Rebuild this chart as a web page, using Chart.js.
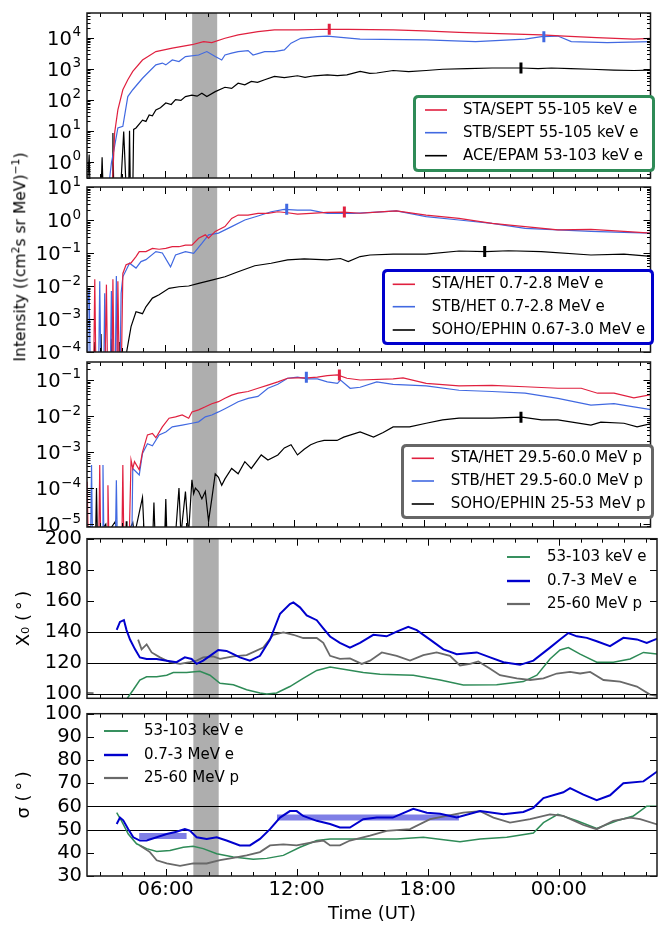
<!DOCTYPE html>
<html><head><meta charset="utf-8">
<script src="https://cdn.jsdelivr.net/npm/chart.js@4.4.0/dist/chart.umd.min.js"></script>
<style>
html,body{margin:0;padding:0;background:#fff;}
#wrap{position:relative;width:659px;height:925px;overflow:hidden;font-family:'DejaVu Sans',sans-serif;background:#fff;}
canvas{position:absolute;left:0;}
#ylab{position:absolute;left:21px;top:257px;transform:translate(-50%,-50%) rotate(-90deg);white-space:nowrap;font-size:15.5px;color:#000;line-height:1;}
#ylab sup{font-size:70%;vertical-align:super;line-height:0;}
</style></head>
<body><div id="wrap">
<canvas id="c1"></canvas><canvas id="c2"></canvas><canvas id="c3"></canvas><canvas id="c4"></canvas><canvas id="c5"></canvas>
<div id="ylab">Intensity ((cm<sup>2</sup>s sr MeV)<sup>&minus;1</sup>)</div>
</div>
<script>
// ---------- shared axis data ----------
const timeTicks = [6, 12, 18, 24];
const timeLabels = ['06:00', '12:00', '18:00', '00:00'];
const bandStart = 7.27, bandEnd = 8.43;

// ---------- panel 1: 53-105 keV electrons ----------
const p1StaT = [3.58,3.68,3.83,4.06,4.29,4.52,4.97,5.59,6.35,7.26,7.8,8.18,8.79,9.4,10.32,11.08,12.15,13.53,14.5,16.58,18.0,19.63,21.5,23.45,24.52,26.0,27.73,28.6];
const p1StaV = [0.2,8.5,47,209,437,813,1900,3550,4570,5900,7400,6900,9500,12300,15500,17800,17800,18600,18500,17800,16500,14800,13500,12300,11200,10000,8900,9500];
const p1StbT = [3.45,3.53,3.68,3.83,4.06,4.29,4.52,4.97,5.59,5.89,6.05,6.35,6.66,6.96,7.57,7.95,8.34,8.64,8.79,9.1,9.4,9.86,10.09,10.63,11.08,11.54,11.85,12.3,13.07,13.53,15.05,18.11,20.4,22.69,23.45,24.21,24.83,26.5,28.6];
const p1StbV = [0.3,0.9,3.2,12.3,13.8,126,209,490,1320,1510,1320,1900,1700,2450,2750,3550,2450,1900,2750,3160,3550,3800,2750,3550,3550,4000,6600,9500,10700,11200,8900,8500,7400,8900,10700,11200,7400,6900,7400];
const p1AceT = [2.41,2.5,2.55,3.05,3.1,3.15,3.57,3.6,3.64,3.95,4.1,4.22,4.33,4.37,4.41,4.52,4.56,4.67,4.97,5.13,5.28,5.43,5.59,5.8,6.05,6.3,6.5,6.75,6.96,7.26,7.5,7.72,7.95,8.34,8.79,9.1,9.4,9.71,10.01,10.3,10.63,11.08,11.54,12.15,12.5,12.92,13.53,14.0,14.44,15.05,15.5,15.82,16.58,17.3,18.11,18.87,20.0,21.16,22.54,23.3,23.91,24.8,25.74,26.8,27.73,28.6];
const p1AceV = [0.1,1.7,0.1,0.1,1.4,0.1,0.1,8.5,0.1,0.1,9.5,0.1,0.1,10,0.1,0.1,11,12.3,22,20,32,30,47,55,78,70,100,95,126,141,130,162,126,182,251,230,339,300,389,360,437,562,513,589,520,589,631,600,631,813,700,724,871,800,871,955,1000,1050,1050,1000,1050,1000,955,900,871,891];
const p1PeakT = [13.62, 23.56, 22.5];
const p1PeakV = [18600, 10700, 1050];

// ---------- panel 2: ~1 MeV electrons ----------
const p2StaT = [2.41,2.7,2.76,2.82,3.22,3.3,3.36,3.55,3.6,3.66,3.78,3.83,3.9,3.98,4.06,4.21,4.44,4.67,4.82,5.13,5.43,5.74,6.05,6.35,6.66,6.96,7.26,7.57,7.88,8.03,8.34,8.79,9.1,9.4,9.86,10.32,10.78,11.24,11.69,12.15,12.76,13.53,14.29,15.05,15.82,16.73,18.11,19.63,21.16,22.69,24.21,25.74,27.27,28.6];
const p2StaV = [1e-5,1e-5,0.016,1e-5,1e-5,0.011,1e-5,1e-5,0.016,1e-5,1e-5,0.014,1e-5,1e-5,0.024,0.044,0.05,0.078,0.11,0.11,0.138,0.13,0.138,0.155,0.155,0.174,0.174,0.28,0.355,0.28,0.45,0.63,1.12,1.41,1.41,1.58,1.58,1.78,1.66,1.51,1.58,1.7,1.74,1.6,1.74,1.9,1.41,1.12,0.79,0.63,0.5,0.52,0.45,0.4];
const p2StbT = [2.41,2.44,2.5,2.56,2.93,2.99,3.05,3.17,3.22,3.28,3.47,3.53,3.59,3.7,3.76,3.82,3.92,3.98,4.06,4.37,4.67,4.9,5.13,5.59,5.89,6.27,6.5,6.96,7.34,7.72,8.03,8.49,9.1,9.71,10.32,10.93,11.54,12.15,12.76,13.53,14.75,15.82,16.73,18.11,19.63,21.16,22.69,24.21,25.74,27.27,28.6];
const p2StbV = [1e-5,0.003,0.008,1e-5,1e-5,0.014,1e-5,1e-5,0.006,1e-5,1e-5,0.007,1e-5,1e-5,0.02,1e-5,1e-5,0.006,0.019,0.049,0.035,0.055,0.063,0.11,0.1,0.038,0.087,0.11,0.098,0.195,0.355,0.4,0.63,1.0,1.32,1.78,2.09,2.0,2.0,1.58,1.58,1.74,1.9,1.26,1.0,0.79,0.56,0.5,0.45,0.42,0.4];
const p2EphT = [2.41,2.7,2.76,2.82,3.0,3.05,3.1,3.5,3.53,3.58,3.85,3.91,3.96,4.21,4.44,4.67,4.97,5.13,5.43,5.74,6.2,6.66,7.11,7.57,8.18,8.79,9.4,10.17,10.93,11.69,12.46,13.53,14.14,14.5,15.05,15.51,16.58,18.11,19.63,20.86,21.92,23.45,25.74,27.27,28.6];
const p2EphV = [1e-5,1e-5,0.0002,1e-5,1e-5,0.00035,1e-5,1e-5,0.00025,1e-5,1e-5,0.0002,1e-5,0.00008,0.00059,0.00166,0.00145,0.00234,0.0043,0.0054,0.0085,0.0095,0.01,0.012,0.015,0.019,0.027,0.041,0.049,0.062,0.066,0.062,0.068,0.055,0.078,0.087,0.093,0.093,0.115,0.11,0.117,0.11,0.087,0.093,0.078];
const p2PeakT = [14.32, 11.65, 20.82];
const p2PeakV = [1.74, 2.1, 0.112];

// ---------- panel 3: 25-60 MeV protons ----------
const p3StaT = [2.41,2.45,2.95,2.99,3.03,3.33,3.37,3.41,4.02,4.06,4.1,4.36,4.44,4.52,4.6,4.82,4.97,5.2,5.43,5.59,5.89,6.2,6.5,6.81,7.11,7.26,7.57,7.88,8.18,8.49,8.79,9.1,9.4,9.86,10.32,10.78,11.24,11.69,12.15,12.61,13.07,13.53,14.0,14.44,15.05,16.58,17.04,18.11,19.63,21.16,22.69,24.21,25.29,26.05,26.81,27.73,28.6];
const p3StaV = [0.00015,5e-6,5e-6,0.00044,5e-6,5e-6,0.00012,5e-6,5e-6,0.00044,5e-6,5e-6,0.0006,0.00035,0.00054,0.00032,0.001,0.003,0.0033,0.0025,0.005,0.0087,0.0095,0.0107,0.0087,0.013,0.0148,0.018,0.022,0.025,0.031,0.038,0.043,0.048,0.059,0.072,0.089,0.112,0.115,0.115,0.12,0.132,0.138,0.112,0.1,0.107,0.115,0.081,0.069,0.071,0.065,0.059,0.059,0.043,0.043,0.032,0.04];
const p3StbT = [2.41,2.57,2.61,2.65,3.1,3.14,3.18,3.72,3.76,3.8,4.48,4.52,4.82,4.97,5.2,5.43,5.74,6.05,6.35,6.81,7.26,7.57,7.88,8.18,8.49,8.79,9.1,9.4,9.86,10.32,10.78,11.24,11.69,12.15,12.61,13.07,13.53,14.0,14.14,14.59,15.05,15.82,16.58,18.11,19.63,21.16,22.69,24.21,25.74,26.81,27.73,28.6];
const p3StbV = [5e-6,5e-6,0.00044,5e-6,5e-6,0.00044,5e-6,5e-6,0.000166,5e-6,5e-6,0.00035,0.00023,0.00091,0.0017,0.0015,0.003,0.0036,0.005,0.0056,0.0063,0.0069,0.0095,0.0107,0.013,0.016,0.02,0.025,0.031,0.035,0.059,0.076,0.112,0.12,0.107,0.107,0.089,0.081,0.1,0.059,0.063,0.089,0.076,0.069,0.052,0.048,0.043,0.031,0.02,0.022,0.018,0.0148];
const p3EphT = [2.41,2.8,2.84,2.88,3.27,3.3,3.72,3.76,4.2,4.22,4.25,4.52,4.6,4.97,5.05,5.45,5.5,5.55,6.0,6.05,6.1,6.5,6.66,6.75,6.96,7.1,7.26,7.34,7.42,7.57,7.72,7.88,8.03,8.18,8.34,8.49,8.64,8.79,9.1,9.4,9.71,10.01,10.47,10.78,11.24,11.54,11.85,12.15,12.46,12.76,13.07,13.38,13.98,14.29,15.05,15.67,16.12,16.58,17.34,18.11,18.87,19.63,21.16,22.54,23.45,24.21,25.74,26.2,27.27,27.88,28.6];
const p3EphV = [5e-6,5e-6,0.0001,5e-6,1e-5,5e-6,1.2e-5,5e-6,5e-6,1.2e-5,5e-6,1.1e-5,5e-6,5.5e-5,5e-6,5e-6,4e-5,5e-6,5e-6,5e-5,5e-6,5e-6,0.0001,5e-6,8e-5,5e-6,0.00017,7e-5,0.0001,8e-5,5e-5,8e-5,1.2e-5,5e-5,0.00025,0.0002,0.00012,0.00018,0.00035,0.00025,0.00054,0.00035,0.00083,0.0006,0.00083,0.0013,0.0016,0.00083,0.0012,0.0016,0.0019,0.0021,0.0021,0.0026,0.0036,0.0026,0.0035,0.005,0.005,0.0063,0.0078,0.0087,0.0087,0.0093,0.0078,0.0078,0.0056,0.0068,0.0063,0.005,0.0063];
const p3PeakT = [14.09, 12.56, 22.5];
const p3PeakV = [0.138, 0.12, 0.0093];

// ---------- panel 4: X0 ----------
const p4GreenT = [4.21,4.52,4.82,5.13,5.59,6.05,6.35,6.96,7.57,8.03,8.49,9.1,9.71,10.32,10.63,11.08,11.69,12.3,12.92,13.53,15.05,15.82,17.34,18.57,19.63,21.16,22.38,23.0,23.6,24.06,24.44,24.98,25.74,26.5,27.27,27.88,28.6];
const p4GreenV = [96.3,102.5,108.8,110.9,110.9,111.9,113.6,113.6,114.4,111.9,106.7,105.7,102.5,100.4,99.8,100.4,104.6,109.8,115,117.2,113.6,112.6,111.9,108.8,105.6,105.7,107.8,111.9,122.4,128.2,129.7,125.5,120.3,120.3,122.4,126.6,125.5];
const p4BlueT = [3.76,3.91,4.09,4.21,4.37,4.6,4.82,5.13,5.59,6.05,6.5,6.88,7.19,7.42,7.72,8.03,8.41,8.79,9.1,9.4,9.86,10.32,10.78,11.24,11.69,11.85,12.15,12.46,12.92,13.22,13.53,13.98,14.44,14.9,15.51,16.12,16.58,17.11,17.5,18.11,18.72,19.33,20.25,20.86,21.47,22.23,22.84,23.6,24.06,24.44,24.83,25.29,25.74,26.35,26.96,27.58,28.03,28.6];
const p4BlueV = [141.1,146.3,147.5,141,134.9,128.6,123.4,122.4,122.4,121.3,120.3,123.4,122.4,119.2,121.3,124.4,128.2,127.6,125.5,123.4,121.3,124.4,134.9,151.6,157.8,158.9,155.7,150.5,147.4,142.2,136.9,132.8,129.7,132.8,138,137,140,143.2,141,134.9,128.6,125.5,126.6,123.4,120.3,118.6,121.3,129.7,134.9,139.1,137,136,133.8,130.7,136,135,132.8,136];
const p4GrayT = [2.41,2.7,2.75,4.74,4.9,5.13,5.36,5.74,6.2,6.66,7.11,7.42,7.72,8.18,8.49,9.1,9.71,10.47,10.93,11.39,11.85,12.3,12.92,13.22,13.53,13.98,14.44,14.98,15.36,15.9,16.58,17.19,17.8,18.41,19.02,19.48,19.94,20.32,20.86,21.31,22.08,22.69,23.3,23.91,24.52,24.98,25.44,26.05,26.81,27.58,28.18,28.6];
const p4GrayV = [100.5,100.3,null,134.9,128.6,131.8,126.6,123.4,120.3,119.2,120.3,121.3,123.4,124,122.4,124,124.9,129.7,138,139.5,138,135.9,135.9,132.8,124.4,122.4,122.8,119.2,121.3,126.6,124.4,121.3,124.9,126.6,124.4,118.2,119.2,120.8,116.1,111.9,109.8,108.8,109.8,113,114,113,114,108.8,107.8,104.6,99.4,98.4];
const x0RefLines = [100, 120, 140];

// ---------- panel 5: sigma ----------
const p5GreenT = [3.76,3.98,4.29,4.67,5.13,5.59,6.2,6.81,7.26,7.72,8.34,9.1,10.01,10.63,11.39,12.15,12.92,13.53,14.44,16.58,17.8,19.48,20.4,21.62,22.84,23.3,23.96,24.83,25.74,26.66,27.42,28.03,28.6];
const p5GreenV = [57.3,53.8,48.1,43.9,41.8,40.6,41,42.4,42.8,41.8,39.6,38.2,37.2,37.6,38.9,42.4,45.3,46,46,46,46.7,44.8,46,46.7,48.5,53,56.6,53.8,50.5,53.8,55.9,60.1,60.1];
const p5BlueT = [3.76,3.91,4.06,4.29,4.52,4.82,5.13,5.59,6.05,6.5,6.88,7.11,7.42,7.88,8.34,8.79,9.4,9.86,10.32,10.78,11.24,11.69,12.0,12.3,12.92,13.53,13.98,14.44,15.05,15.67,16.4,17.34,17.96,18.57,19.33,20.4,21.47,22.38,22.84,23.3,24.21,24.52,25.13,25.74,26.35,26.96,27.88,28.6];
const p5BlueV = [52.4,55.2,54,50.2,46.7,45.3,45.3,46.7,48.1,49.1,50.2,49.6,46.7,46,46.7,45.3,43.2,43.2,46,50.2,55.2,58,58,55.9,53.8,52.4,50.9,50.9,54.5,55.2,55.2,59,57.3,56.8,55.2,58,56.6,57.6,59.4,63.6,66.1,67.9,65.1,62.7,64.8,70,70.8,75.7];
const p5GrayT = [4.82,5.28,5.59,6.05,6.66,7.26,7.88,8.49,9.1,9.71,10.32,10.78,11.39,12.0,12.76,13.22,13.53,13.98,14.44,15.36,16.12,17.19,18.11,18.87,19.63,20.4,21.01,21.77,22.69,23.6,24.21,25.13,25.74,26.5,27.27,27.73,28.6];
const p5GrayV = [43.2,40.3,36.8,35.4,34.4,35.4,35.4,36.8,37.8,38.9,40.3,43.2,43.6,43.2,44.6,45.3,43.2,43.2,45.3,47.4,49.5,50.2,54.5,55.9,57.3,58,55.2,53,54.5,56.6,55.9,52,50.2,53.8,55.2,54.5,52];
const sigmaBarStart = [4.79, 11.1];
const sigmaBarEnd = [6.96, 19.43];
const sigmaBarValue = [47.2, 55.2];
const sigmaRefLines = [50, 60];

// ---------- styles ----------
const FONT = "'DejaVu Sans', sans-serif";
const RED = '#e0203f', LBLUE = '#4169e1', BLACK = '#000000';
const GREEN = '#2e8b57', DBLUE = '#0000cd', GRAY = '#696969';
const X_MIN = 2.4, X_MAX = 28.5;
Chart.defaults.font.family = FONT;
Chart.defaults.color = '#000';

function pts(t, v) { return t.map((h, i) => ({x: h, y: v[i]})); }
function series(label, t, v, color, width, order) {
  return {label, data: pts(t, v), borderColor: color, backgroundColor: color, borderWidth: width,
    pointRadius: 0, pointHoverRadius: 0, fill: false, tension: 0, spanGaps: false, order, inLegend: true};
}
function peaks(t, v, colors) {
  return {label: 'peaks', data: pts(t, v), showLine: false, pointStyle: 'line', pointRadius: 5.5,
    pointRotation: 90, pointBorderWidth: 3, pointBorderColor: colors, pointBackgroundColor: colors,
    borderColor: colors[0], order: -1, inLegend: false};
}
function bar(t0, t1, v) {
  return {label: 'bar', data: [{x: t0, y: v}, {x: t1, y: v}], borderColor: 'rgba(0,0,205,0.5)',
    borderWidth: 6, borderCapStyle: 'butt', pointRadius: 0, fill: false, order: 20, inLegend: false};
}

const bandPlugin = {
  id: 'band',
  beforeDatasetsDraw(chart, args, o) {
    const {ctx, chartArea: a, scales: {x, y}} = chart;
    const x0 = Math.max(a.left, x.getPixelForValue(o.from));
    const x1 = Math.min(a.right, x.getPixelForValue(o.to));
    ctx.save();
    ctx.fillStyle = o.color;
    ctx.fillRect(x0, a.top, x1 - x0, a.height);
    (o.hlines || []).forEach(v => {
      const py = Math.round(y.getPixelForValue(v)) + 0.5;
      ctx.strokeStyle = '#000'; ctx.lineWidth = 1.2;
      ctx.beginPath(); ctx.moveTo(a.left, py); ctx.lineTo(a.right, py); ctx.stroke();
    });
    ctx.restore();
  }
};

const framePlugin = {
  id: 'frame',
  afterDatasetsDraw(chart) {
    const {ctx, chartArea: a, scales: {x, y}} = chart;
    ctx.save();
    ctx.strokeStyle = '#000'; ctx.lineWidth = 1;
    ctx.beginPath();
    for (let h = Math.ceil(x.min); h <= Math.floor(x.max); h++) {
      const px = Math.round(x.getPixelForValue(h)) + 0.5;
      const len = h % 6 === 0 ? 7 : 4;
      ctx.moveTo(px, a.bottom); ctx.lineTo(px, a.bottom - len);
      ctx.moveTo(px, a.top); ctx.lineTo(px, a.top + len);
    }
    const yt = [];
    if (y.type === 'logarithmic') {
      const e0 = Math.floor(Math.log10(y.min)), e1 = Math.ceil(Math.log10(y.max));
      for (let e = e0; e <= e1; e++) for (let k = 1; k < 10; k++) {
        const v = k * Math.pow(10, e);
        if (v >= y.min && v <= y.max) yt.push([v, k === 1 ? 7 : 3.5]);
      }
    } else {
      y.ticks.forEach(t => yt.push([t.value, 7]));
    }
    yt.forEach(([v, len]) => {
      const py = Math.round(y.getPixelForValue(v)) + 0.5;
      ctx.moveTo(a.left, py); ctx.lineTo(a.left + len, py);
      ctx.moveTo(a.right, py); ctx.lineTo(a.right - len, py);
    });
    ctx.stroke();
    ctx.lineWidth = 1.5; ctx.strokeStyle = '#1a1a1a';
    ctx.strokeRect(a.left, a.top, a.width, a.height);
    ctx.restore();
  },
  afterDraw(chart) {
    // power-of-ten tick labels with a real superscript exponent
    const {ctx, chartArea: a, scales: {y}} = chart;
    if (y.type !== 'logarithmic') return;
    ctx.save();
    ctx.fillStyle = '#000'; ctx.textAlign = 'left'; ctx.textBaseline = 'alphabetic';
    y.ticks.forEach(t => {
      const e = Math.round(Math.log10(t.value));
      const expo = (e < 0 ? '\u2212' : '') + Math.abs(e);
      const py = y.getPixelForValue(t.value);
      ctx.font = '13.5px ' + FONT;
      const ws = ctx.measureText(expo).width;
      ctx.font = '19.5px ' + FONT;
      const wb = ctx.measureText('10').width;
      const xr = a.left - 6;
      const xs = xr - ws;
      ctx.fillText('10', xs - wb - 0.5, py + 7.2);
      ctx.font = '13.5px ' + FONT;
      ctx.fillText(expo, xs, py - 1.5);
    });
    ctx.restore();
  }
};

const legendPlugin = {
  id: 'boxLegend',
  afterDraw(chart, args, o) {
    if (!o || !o.rows) return;
    const ctx = chart.ctx, off = o.offset;
    ctx.save();
    if (o.box) {
      const [x0, y0, x1, y1] = o.box;
      const bx = x0 + 1.5, by = y0 + 1.5 - off, bw = x1 - x0 - 3, bh = y1 - y0 - 3, r = 4;
      ctx.beginPath();
      ctx.moveTo(bx + r, by); ctx.lineTo(bx + bw - r, by); ctx.quadraticCurveTo(bx + bw, by, bx + bw, by + r);
      ctx.lineTo(bx + bw, by + bh - r); ctx.quadraticCurveTo(bx + bw, by + bh, bx + bw - r, by + bh);
      ctx.lineTo(bx + r, by + bh); ctx.quadraticCurveTo(bx, by + bh, bx, by + bh - r);
      ctx.lineTo(bx, by + r); ctx.quadraticCurveTo(bx, by, bx + r, by);
      ctx.closePath();
      ctx.fillStyle = '#fff'; ctx.fill();
      ctx.lineWidth = 3; ctx.strokeStyle = o.border; ctx.stroke();
    }
    ctx.font = '15px ' + FONT; ctx.textBaseline = 'middle'; ctx.textAlign = 'left'; ctx.fillStyle = '#000';
    const items = chart.data.datasets.filter(d => d.inLegend);
    items.forEach((d, i) => {
      const yy = o.rows[i] - off;
      ctx.strokeStyle = d.borderColor; ctx.lineWidth = d.borderWidth + 0.4;
      ctx.beginPath(); ctx.moveTo(o.lineX[0], yy); ctx.lineTo(o.lineX[1], yy); ctx.stroke();
      ctx.fillText(d.label, o.textX, yy);
    });
    ctx.restore();
  }
};

function xAxis(show) {
  return {
    type: 'linear', min: X_MIN, max: X_MAX, display: show,
    afterBuildTicks: s => { s.ticks = timeTicks.map(v => ({value: v})); },
    afterFit: s => { if (show) s.height = 49; },
    grid: {display: false, drawTicks: false}, border: {display: false},
    ticks: {autoSkip: false, maxRotation: 0, minRotation: 0, padding: 2, color: '#000',
      font: {family: FONT, size: 19.5}, callback: v => timeLabels[timeTicks.indexOf(v)]},
    title: {display: show, text: 'Time (UT)', color: '#000', font: {family: FONT, size: 18}, padding: {top: 0, bottom: 0}}
  };
}
function logY(min, max, decades) {
  return {
    type: 'logarithmic', min, max,
    afterBuildTicks: s => { s.ticks = decades.map(v => ({value: v})); },
    afterFit: s => { s.width = 87; },
    grid: {display: false, drawTicks: false}, border: {display: false},
    ticks: {display: false, autoSkip: false}
  };
}
function linY(min, max, tickVals, title) {
  return {
    type: 'linear', min, max,
    afterBuildTicks: s => { s.ticks = tickVals.map(v => ({value: v})); },
    afterFit: s => { s.width = 87; },
    grid: {display: false, drawTicks: false}, border: {display: false},
    ticks: {autoSkip: false, padding: 5, color: '#000', font: {family: FONT, size: 19.5}, callback: v => String(v)},
    title: {display: true, text: title, color: '#000', font: {family: FONT, size: 18}, padding: {top: 14, bottom: 0}}
  };
}

function build(id, top, height, showX, yScale, datasets, legendOpts, hlines) {
  const cv = document.getElementById(id);
  cv.width = 659; cv.height = height;
  cv.style.top = top + 'px';
  legendOpts.offset = top;
  return new Chart(cv, {
    type: 'line',
    data: {datasets},
    options: {
      responsive: false, animation: false, devicePixelRatio: 1, events: [],
      layout: {padding: {left: 0, right: 2, top: 14, bottom: showX ? 0 : 14}},
      scales: {x: xAxis(showX), y: yScale},
      plugins: {
        legend: {display: false}, tooltip: {enabled: false},
        band: {from: bandStart, to: bandEnd, color: '#aeaeae', hlines: hlines || []},
        boxLegend: legendOpts
      }
    },
    plugins: [bandPlugin, framePlugin, legendPlugin]
  });
}

// panel 1
build('c1', -1, 193, false, logY(0.316, 6.2e4, [1, 10, 100, 1000, 10000]), [
  peaks(p1PeakT, p1PeakV, [RED, LBLUE, BLACK]),
  series('STA/SEPT 55-105 keV e', p1StaT, p1StaV, RED, 1.2, 1),
  series('STB/SEPT 55-105 keV e', p1StbT, p1StbV, LBLUE, 1.2, 2),
  series('ACE/EPAM 53-103 keV e', p1AceT, p1AceV, BLACK, 1.2, 3)
], {box: [413, 95, 655, 172], border: GREEN, lineX: [425, 447], textX: 463, rows: [110, 132.7, 155.7]});

// panel 2
build('c2', 173, 193, false, logY(1e-4, 10, [1e-4, 1e-3, 1e-2, 0.1, 1, 10]), [
  peaks(p2PeakT, p2PeakV, [RED, LBLUE, BLACK]),
  series('STA/HET 0.7-2.8 MeV e', p2StaT, p2StaV, RED, 1.2, 1),
  series('STB/HET 0.7-2.8 MeV e', p2StbT, p2StbV, LBLUE, 1.2, 2),
  series('SOHO/EPHIN 0.67-3.0 MeV e', p2EphT, p2EphV, BLACK, 1.2, 3)
], {box: [382, 269, 654, 345], border: DBLUE, lineX: [392.7, 415], textX: 431.7, rows: [284.3, 306.7, 330]});

// panel 3
build('c3', 348, 193, false, logY(8.3e-6, 0.316, [1e-5, 1e-4, 1e-3, 1e-2, 0.1]), [
  peaks(p3PeakT, p3PeakV, [RED, LBLUE, BLACK]),
  series('STA/HET 29.5-60.0 MeV p', p3StaT, p3StaV, RED, 1.2, 1),
  series('STB/HET 29.5-60.0 MeV p', p3StbT, p3StbV, LBLUE, 1.2, 2),
  series('SOHO/EPHIN 25-53 MeV p', p3EphT, p3EphV, BLACK, 1.2, 3)
], {box: [401, 444, 654, 519], border: '#666666', lineX: [411.7, 434], textX: 450.7, rows: [458.3, 481, 504]});

// panel 4
build('c4', 522, 193, false, linY(97, 200, [100, 120, 140, 160, 180, 200], 'X\u2080 (\u2009\u00B0\u2009)'), [
  series('53-103 keV e', p4GreenT, p4GreenV, GREEN, 1.5, 3),
  series('0.7-3 MeV e', p4BlueT, p4BlueV, DBLUE, 2, 1),
  series('25-60 MeV p', p4GrayT, p4GrayV, GRAY, 1.8, 2)
], {lineX: [507, 530], textX: 547, rows: [557, 581, 604]}, x0RefLines);

// panel 5
build('c5', 697, 228, true, linY(30, 100, [30, 40, 50, 60, 70, 80, 90, 100], '\u03C3 (\u2009\u00B0\u2009)'), [
  series('53-103 keV e', p5GreenT, p5GreenV, GREEN, 1.5, 3),
  series('0.7-3 MeV e', p5BlueT, p5BlueV, DBLUE, 2, 1),
  series('25-60 MeV p', p5GrayT, p5GrayV, GRAY, 1.8, 2),
  bar(sigmaBarStart[0], sigmaBarEnd[0], sigmaBarValue[0]),
  bar(sigmaBarStart[1], sigmaBarEnd[1], sigmaBarValue[1])
], {lineX: [104, 128], textX: 144, rows: [731, 755, 778]}, sigmaRefLines);
</script>
</body></html>
